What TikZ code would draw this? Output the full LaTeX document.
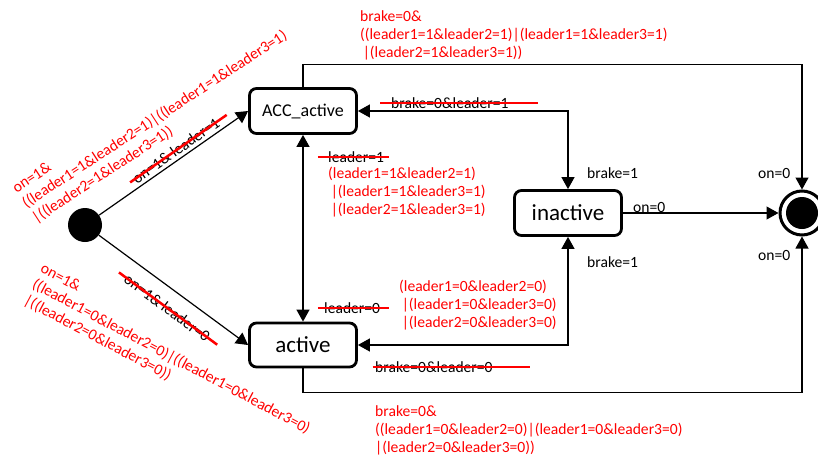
\documentclass[tikz,border=0pt]{standalone}
\usepackage{fontspec}
\setmainfont{Carlito}
\usetikzlibrary{arrows.meta,calc}
\tikzset{
  state/.style={draw,line width=2.8pt,rounded corners=7pt,minimum width=107pt,minimum height=45pt,inner sep=0pt},
  initstate/.style={circle,fill=black,minimum size=34pt,inner sep=0pt},
  finalstate/.style={circle,draw,line width=3pt,minimum size=44pt,inner sep=0pt},
  finaldot/.style={circle,fill=black,minimum size=32pt,inner sep=0pt},
  trans/.style={line width=1.2pt,-{Triangle[length=12pt,width=13pt]}},
  bitrans/.style={line width=1.2pt,{Triangle[length=12pt,width=13pt]}-{Triangle[length=12pt,width=13pt]}},
  lbl/.style={font=\fontsize{15.6}{18}\selectfont,inner sep=0pt},
  redlbl/.style={lbl,text=red,align=left},
  redline/.style={red,line width=2.5pt}
}
\providecommand{\Strike}[3]{
\draw[redline] ($(#1.west)!-#2!(#1.east)$) -- ($(#1.east)!-#3!(#1.west)$);
}

\begin{document}
\begin{tikzpicture}[x=1pt,y=-1pt]
\useasboundingbox (0,0) rectangle (818,463);
\node[initstate] (init) at (85,225) {};
\node[state,font=\fontsize{18}{20}\selectfont] (acc) at (303,111) {ACC\_active};
\node[state,font=\fontsize{23}{25}\selectfont] (inactive) at (568,213) {inactive};
\node[state,minimum height=44pt,font=\fontsize{23}{25}\selectfont] (active) at (303,345) {active};
\node[finalstate] (final) at (802,213) {};
\node[finaldot] (finaldot) at (final.center) {};

\draw[trans] (init) -- node[lbl,sloped,above=3pt,pos=0.55] (g1) {on=1\& leader=1} (acc.west);
\draw[trans] (init) -- node[lbl,sloped,below=12pt,pos=0.53] (g0) {on=1\& leader=0} (active.west);
\draw[bitrans] (acc.south) -- (active.north);
\draw[bitrans] (acc.east) -| (inactive.north);
\draw[bitrans] (active.east) -| (inactive.south);
\draw[trans] (inactive) -- (final);
\draw[trans] (acc.north) -- ++(0,-23) -| (final.north);
\draw[trans] (active.south) -- ++(0,24) -| (final.south);

\node[lbl,anchor=west] (bl1) at (391,103) {brake=0\&leader=1};
\node[lbl,anchor=west] (bl0) at (375,367) {brake=0\&leader=0};
\node[lbl,anchor=west] (l1) at (328,157) {leader=1};
\node[lbl,anchor=west] (l0) at (324,308) {leader=0};
\node[lbl,anchor=west] (b1up) at (587,173) {brake=1};
\node[lbl,anchor=west] (b1dn) at (587,262) {brake=1};
\node[lbl,anchor=west] (off) at (633,207) {on=0};
\node[lbl,anchor=west] (offup) at (758,173) {on=0};
\node[lbl,anchor=west] (offdn) at (758,255) {on=0};

\Strike{g1}{0.04}{0.1}
\Strike{g0}{0.08}{0.1}
\Strike{bl1}{0.09}{0.25}
\Strike{bl0}{0.02}{0.32}
\Strike{l1}{0.18}{0.09}
\Strike{l0}{0.11}{0.16}

\node[redlbl,rotate=33,anchor=west] (c1) at (24,205) {on=1\&\\((leader1=1\&leader2=1)|((leader1=1\&leader3=1)\\|((leader2=1\&leader3=1))};
\node[redlbl,rotate=-28,anchor=west] (c0) at (33,284) {on=1\&\\((leader1=0\&leader2=0)|((leader1=0\&leader3=0)\\|((leader2=0\&leader3=0))};
\node[redlbl,anchor=west] (k1) at (360,35) {brake=0\&\\((leader1=1\&leader2=1)|(leader1=1\&leader3=1)\\\,|(leader2=1\&leader3=1))};
\node[redlbl,anchor=west] (k0) at (375,430) {brake=0\&\\((leader1=0\&leader2=0)|(leader1=0\&leader3=0)\\|(leader2=0\&leader3=0))};
\node[redlbl,anchor=west] (m1) at (328,192) {(leader1=1\&leader2=1)\\\,|(leader1=1\&leader3=1)\\\,|(leader2=1\&leader3=1)};
\node[redlbl,anchor=west] (m0) at (399,305) {(leader1=0\&leader2=0)\\\,|(leader1=0\&leader3=0)\\\,|(leader2=0\&leader3=0)};
\end{tikzpicture}
\end{document}
